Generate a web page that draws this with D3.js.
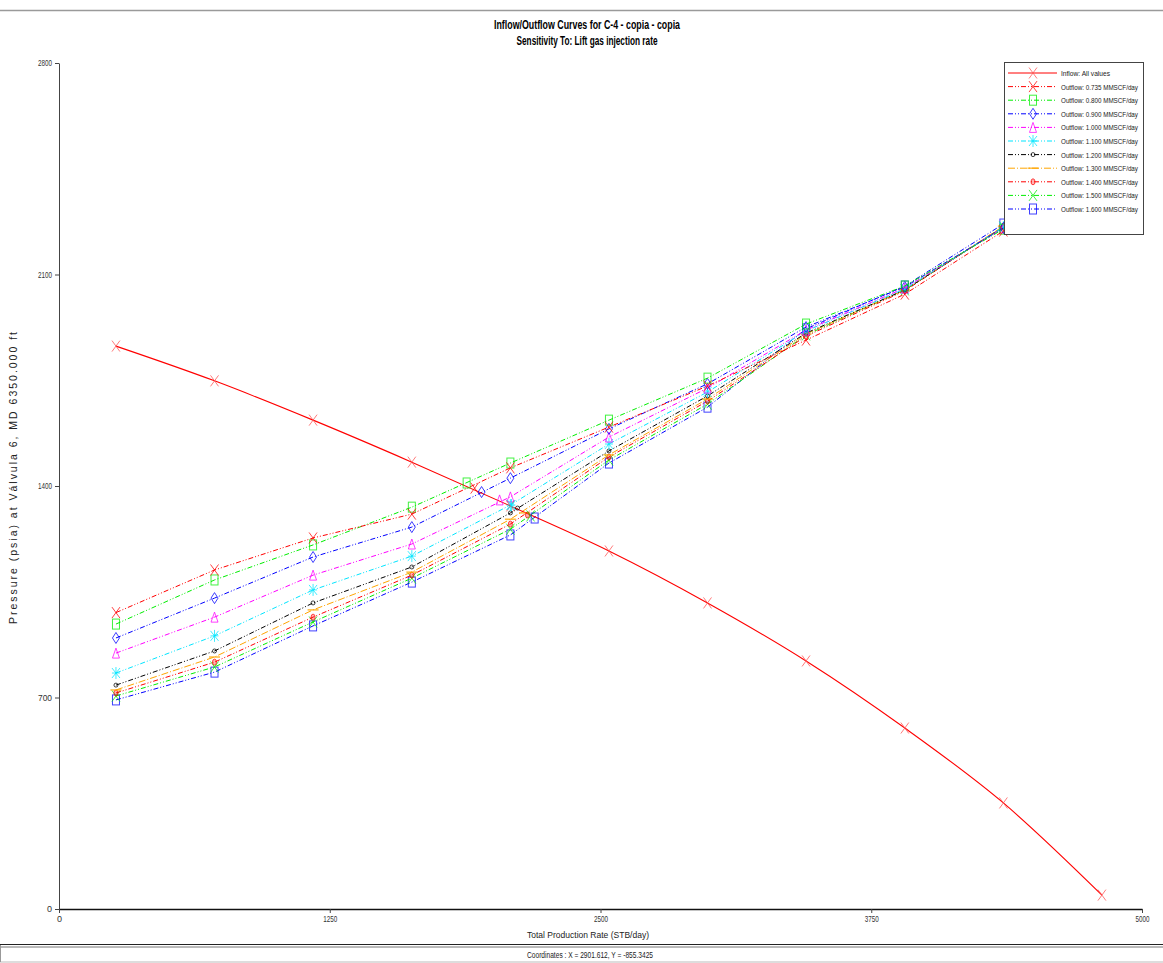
<!DOCTYPE html>
<html>
<head>
<meta charset="utf-8">
<script src="https://cdn.jsdelivr.net/npm/d3@7"></script>
<style>
  html, body { margin: 0; padding: 0; background: #fff; }
  svg { display: block; }
  text { font-family: 'Liberation Sans Narrow', 'Arial Narrow', 'Liberation Sans', Arial, sans-serif; }
</style>
</head>
<body>
<svg id="chart" width="1163" height="963"></svg>
<script>
// ---------------- DATA ----------------
const xTicks = [0, 1250, 2500, 3750, 5000];
const yTicks = [0, 700, 1400, 2100, 2800];

const inflowRates = [263, 718, 1173, 1629, 2084, 2539, 2994, 3449, 3905, 4360, 4815];
const inflowP     = [1863, 1748, 1618, 1479, 1334, 1185, 1013, 821, 599, 351, 46];

const outflowRates = [263, 718, 1173, 1629, 2084, 2539, 2994, 3449, 3905, 4360];
const gasRates = ["0.735", "0.800", "0.900", "1.000", "1.100", "1.200", "1.300", "1.400", "1.500", "1.600"];

const out0735 = [981, 1122, 1228, 1307, 1460, 1595, 1731, 1883, 2035, 2244];
const out0800 = [943, 1089, 1205, 1330, 1476, 1618, 1757, 1936, 2062, 2250];
const out0900 = [897, 1029, 1165, 1264, 1426, 1589, 1738, 1926, 2059, 2254];
const out1000 = [847, 966, 1105, 1208, 1364, 1562, 1724, 1916, 2055, 2254];
const out1100 = [781, 904, 1056, 1168, 1337, 1539, 1711, 1913, 2052, 2257];
const out1200 = [741, 854, 1013, 1132, 1311, 1516, 1698, 1906, 2049, 2257];
const out1300 = [725, 834, 990, 1115, 1290, 1503, 1688, 1903, 2049, 2260];
const out1400 = [715, 817, 966, 1105, 1274, 1496, 1681, 1896, 2046, 2260];
const out1500 = [705, 801, 950, 1095, 1257, 1486, 1671, 1900, 2049, 2257];
const out1600 = [692, 784, 937, 1082, 1238, 1476, 1661, 1920, 2062, 2267];
const outflowP = [out0735, out0800, out0900, out1000, out1100, out1200, out1300, out1400, out1500, out1600];

// solution (intersection) points
const solutionRates = [1919, 1882, 1951, 2034, 2089, 2117, 2149, 2163, 2177, 2196];
const solutionP     = [1393, 1410, 1380, 1354, 1337, 1327, 1311, 1304, 1301, 1294];

// ---------------- STYLES ----------------
const seriesColors = ["#ff0000", "#00ee00", "#0000ff", "#ff00ff", "#00e5ff", "#000000", "#ffa500", "#ff0000", "#00ee00", "#0000ff"];
const seriesMarkers = ["x", "square", "diamond", "triangle", "star", "circle", "dash", "dot", "x", "square"];

// ---------------- CHART ----------------
const svg = d3.select("#chart");
const x = d3.scaleLinear().domain([0, 5000]).range([59, 1142]);
const y = d3.scaleLinear().domain([0, 2800]).range([909, 63]);

// top border
svg.append("line").attr("x1", 0).attr("x2", 1163).attr("y1", 10.5).attr("y2", 10.5)
  .attr("stroke", "#9a9a9a").attr("stroke-width", 1.5);

// titles
svg.append("text").attr("x", 587).attr("y", 29).attr("text-anchor", "middle")
  .attr("font-size", 12.5).attr("font-weight", "bold")
  .attr("textLength", 186).attr("lengthAdjust", "spacingAndGlyphs")
  .text("Inflow/Outflow Curves for C-4 - copia - copia");
svg.append("text").attr("x", 587).attr("y", 45).attr("text-anchor", "middle")
  .attr("font-size", 12.5).attr("font-weight", "bold")
  .attr("textLength", 141).attr("lengthAdjust", "spacingAndGlyphs")
  .text("Sensitivity To: Lift gas injection rate");

// axes
const yAxis = svg.append("g").attr("transform", "translate(59,0)")
  .call(d3.axisLeft(y).tickValues(yTicks).tickSize(4).tickSizeOuter(0).tickPadding(3).tickFormat(d3.format("d")));
yAxis.select(".domain").attr("stroke", "#444");
yAxis.selectAll(".tick line").attr("stroke", "#444");
yAxis.selectAll(".tick text").attr("font-size", 9).attr("fill", "#333")
  .attr("textLength", 14).attr("lengthAdjust", "spacingAndGlyphs");
yAxis.selectAll(".tick text").filter(d => d === 0).attr("textLength", null);

const xAxis = svg.append("g").attr("transform", "translate(0,909)")
  .call(d3.axisBottom(x).tickValues(xTicks).tickSize(4).tickSizeOuter(0).tickPadding(3).tickFormat(d3.format("d")));
xAxis.select(".domain").attr("stroke", "#111").attr("stroke-width", 1.6);
xAxis.selectAll(".tick line").attr("stroke", "#444");
xAxis.selectAll(".tick text").attr("font-size", 9).attr("fill", "#333")
  .attr("textLength", 14).attr("lengthAdjust", "spacingAndGlyphs");
xAxis.selectAll(".tick text").filter(d => d === 0).attr("textLength", null);

// axis titles
svg.append("text").attr("transform", "translate(17,478) rotate(-90)")
  .attr("text-anchor", "middle").attr("font-size", 10.5).attr("fill", "#222")
  .attr("font-family", "'Liberation Sans', Arial, sans-serif")
  .attr("textLength", 292).attr("lengthAdjust", "spacing")
  .text("Pressure (psia) at Válvula 6, MD 6350.000 ft");
svg.append("text").attr("x", 588).attr("y", 938).attr("text-anchor", "middle")
  .attr("font-size", 8.5).attr("fill", "#222")
  .attr("textLength", 122).attr("lengthAdjust", "spacingAndGlyphs")
  .text("Total Production Rate (STB/day)");

// status bar
svg.append("line").attr("x1", 0).attr("x2", 1163).attr("y1", 944.5).attr("y2", 944.5).attr("stroke", "#222").attr("stroke-width", 1.2);
svg.append("line").attr("x1", 0).attr("x2", 1163).attr("y1", 947).attr("y2", 947).attr("stroke", "#777").attr("stroke-width", 1);
svg.append("line").attr("x1", 0).attr("x2", 1163).attr("y1", 962).attr("y2", 962).attr("stroke", "#bbb").attr("stroke-width", 1);
svg.append("line").attr("x1", 0.5).attr("x2", 0.5).attr("y1", 945).attr("y2", 962).attr("stroke", "#999");
svg.append("text").attr("x", 590).attr("y", 958).attr("text-anchor", "middle")
  .attr("font-size", 8.5).attr("fill", "#222")
  .attr("textLength", 126).attr("lengthAdjust", "spacingAndGlyphs")
  .text("Coordinates :  X = 2901.612,  Y = -855.3425");

// marker drawing
function drawMarker(g, type, color) {
  const op = 0.75;
  switch (type) {
    case "x":
      g.append("path").attr("d", "M-4,-5.5L4,5.5M4,-5.5L-4,5.5").attr("stroke", color).attr("fill", "none").attr("stroke-width", 1).attr("opacity", op);
      break;
    case "square":
      g.append("rect").attr("x", -3.5).attr("y", -5).attr("width", 7).attr("height", 10).attr("stroke", color).attr("fill", "none").attr("stroke-width", 1).attr("opacity", op);
      break;
    case "diamond":
      g.append("path").attr("d", "M0,-5.5L3.5,0L0,5.5L-3.5,0Z").attr("stroke", color).attr("fill", "none").attr("stroke-width", 1).attr("opacity", op);
      break;
    case "triangle":
      g.append("path").attr("d", "M0,-5L3.5,5L-3.5,5Z").attr("stroke", color).attr("fill", "none").attr("stroke-width", 1).attr("opacity", op);
      break;
    case "star":
      g.append("path").attr("d", "M-4,-5L4,5M4,-5L-4,5M0,-6L0,6M-4,0L4,0").attr("stroke", color).attr("fill", "none").attr("stroke-width", 1).attr("opacity", op);
      break;
    case "circle":
      g.append("circle").attr("r", 2).attr("stroke", color).attr("fill", "none").attr("stroke-width", 1).attr("opacity", op);
      break;
    case "dash":
      g.append("path").attr("d", "M-5.5,0L5.5,0").attr("stroke", color).attr("fill", "none").attr("stroke-width", 1.5).attr("opacity", op);
      break;
    case "dot":
      g.append("ellipse").attr("rx", 2).attr("ry", 3).attr("stroke", color).attr("fill", color).attr("fill-opacity", 0.4).attr("stroke-width", 1).attr("opacity", op);
      break;
  }
}

const plot = svg.append("g");
const line = d3.line().x(d => x(d[0])).y(d => y(d[1]));
const dashPat = "5,2,1,2,1,2";

// outflow curves (draw from last to first so low-gas ones stay visible)
for (let i = outflowP.length - 1; i >= 0; i--) {
  const pts = outflowRates.map((r, k) => [r, outflowP[i][k]]);
  plot.append("path").attr("d", line(pts)).attr("fill", "none")
    .attr("stroke", seriesColors[i]).attr("stroke-width", 1)
    .attr("stroke-dasharray", i === 6 ? "7,2,1,2" : dashPat);
  pts.forEach(p => {
    const g = plot.append("g").attr("transform", `translate(${x(p[0])},${y(p[1])})`);
    drawMarker(g, seriesMarkers[i], seriesColors[i]);
  });
}

// inflow curve
const inPts = inflowRates.map((r, k) => [r, inflowP[k]]);
plot.append("path").attr("d", d3.line().curve(d3.curveMonotoneX).x(d => x(d[0])).y(d => y(d[1]))(inPts))
  .attr("fill", "none").attr("stroke", "#ff0000").attr("stroke-width", 1.1);
inPts.forEach(p => {
  const g = plot.append("g").attr("transform", `translate(${x(p[0])},${y(p[1])})`);
  drawMarker(g, "x", "#ff5050");
});

// solution points
solutionRates.forEach((r, i) => {
  const g = plot.append("g").attr("transform", `translate(${x(r)},${y(solutionP[i])})`);
  drawMarker(g, seriesMarkers[i], seriesColors[i]);
});

// legend
const lg = svg.append("g").attr("transform", "translate(1004,62)");
lg.append("rect").attr("x", 0.5).attr("y", 0.5).attr("width", 139).attr("height", 172)
  .attr("fill", "#fff").attr("stroke", "#444").attr("stroke-width", 1);
const legendLabels = ["Inflow: All values"].concat(gasRates.map(g => `Outflow: ${g} MMSCF/day`));
legendLabels.forEach((lab, i) => {
  const yy = 11 + i * 13.6;
  const row = lg.append("g").attr("transform", `translate(0,${yy})`);
  const col = i === 0 ? "#ff0000" : seriesColors[i - 1];
  row.append("line").attr("x1", 4).attr("x2", 53).attr("y1", 0).attr("y2", 0)
    .attr("stroke", col).attr("stroke-width", 1)
    .attr("stroke-dasharray", i === 0 ? null : (i === 7 ? "7,2,1,2" : dashPat));
  const m = row.append("g").attr("transform", "translate(29,0)");
  drawMarker(m, i === 0 ? "x" : seriesMarkers[i - 1], i === 0 ? "#ff5050" : col);
  row.append("text").attr("x", 57).attr("y", 3).attr("font-size", 8).attr("fill", "#222")
    .attr("textLength", i === 0 ? 49 : 77).attr("lengthAdjust", "spacingAndGlyphs")
    .text(lab);
});
</script>
</body>
</html>
